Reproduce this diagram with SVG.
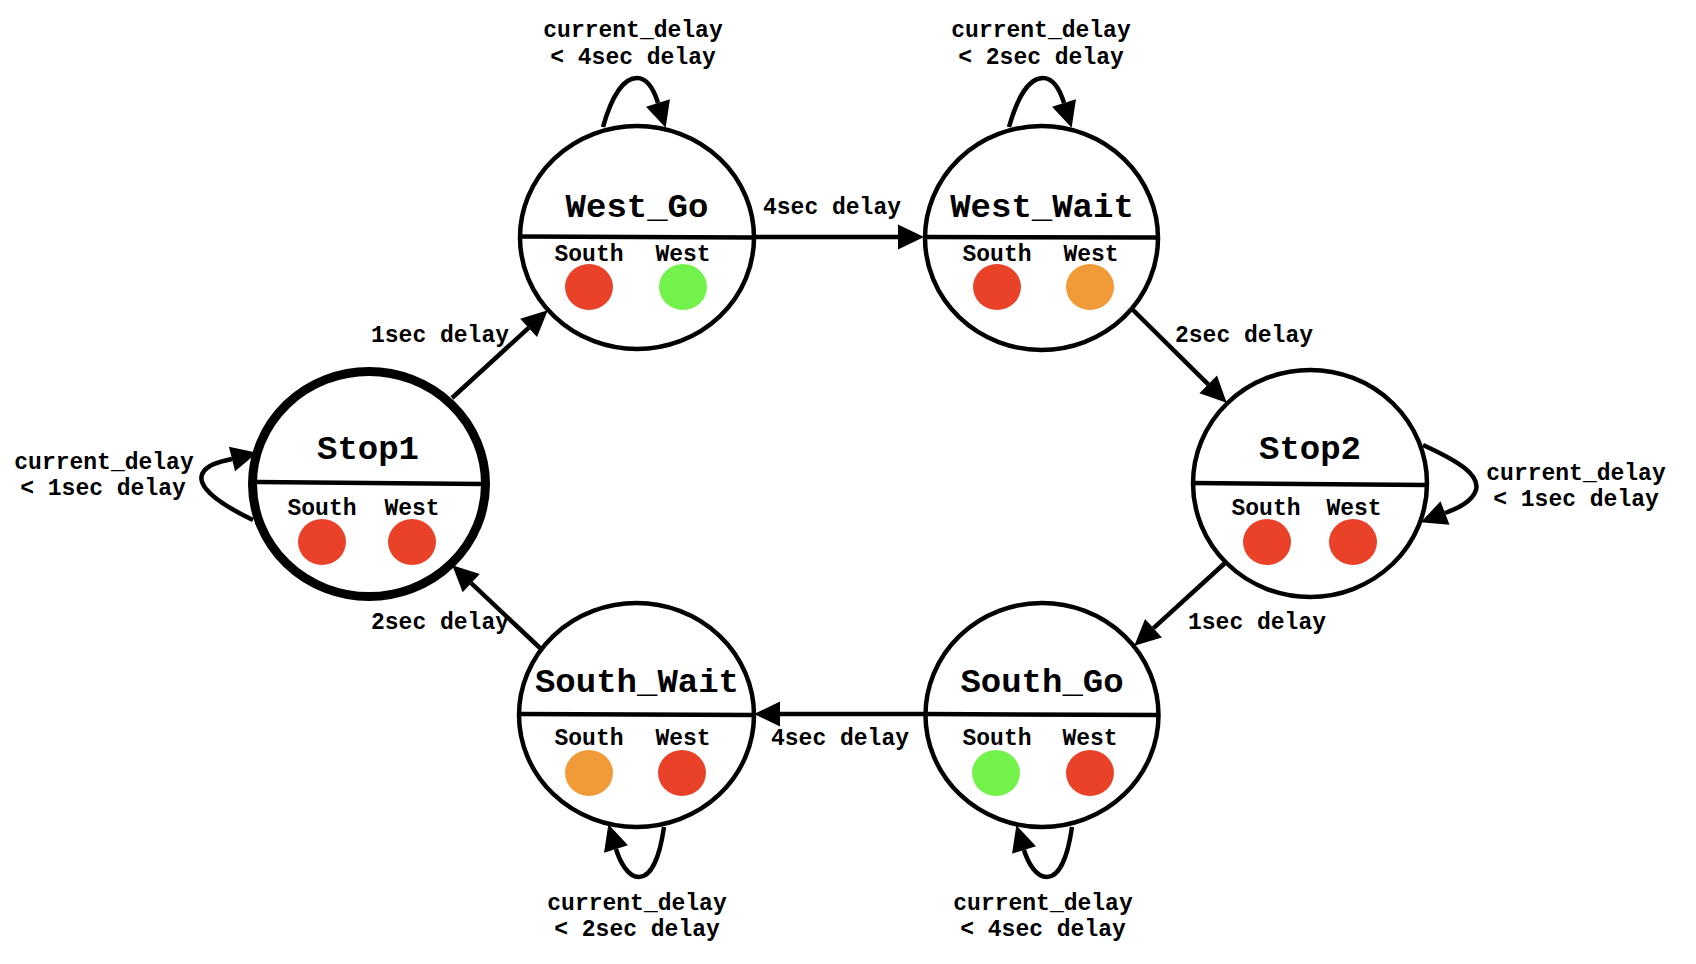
<svg xmlns="http://www.w3.org/2000/svg" width="1696" height="964" viewBox="0 0 1696 964">
  <style>
    text { font-family: "Liberation Mono", "Courier New", monospace; font-weight: bold; fill: #000; text-anchor: middle; }
    .title { font-size: 34px; }
    .lbl { font-size: 23px; }
    .state { fill: #fff; stroke: #000; stroke-width: 4.5; }
    .start { stroke-width: 9; }
    .div { stroke: #000; stroke-width: 4.5; fill: none; }
    .edge { fill: none; stroke: #000; stroke-width: 4.5; marker-end: url(#arrow); }
    .red { fill: #ea4228; }
    .green { fill: #73f24b; }
    .orange { fill: #f19a38; }
  </style>
  <defs>
    <marker id="arrow" markerUnits="userSpaceOnUse" markerWidth="40" markerHeight="40" refX="0" refY="0" orient="auto" overflow="visible">
      <path d="M0,-12.5 L26,0 L0,12.5 z" fill="#000"/>
    </marker>
  </defs>
  <rect width="1696" height="964" fill="#fff"/>

  <!-- transitions and self-loops -->
  <g id="connectors">
    <path class="edge" d="M452,398 L528.6,327.9"/>
    <path class="edge" d="M754,237 L898,237"/>
    <path class="edge" d="M1133,310 L1208.2,384.4"/>
    <path class="edge" d="M1225,563 L1153.5,628.2"/>
    <path class="edge" d="M925,714 L780,714"/>
    <path class="edge" d="M540,648 L471.2,583.2"/>

    <path class="edge" d="M603,127 C612,95 624,78 637,78 C648,78 654,90 658,103"/>
    <path class="edge" d="M1009,127 C1018,95 1030,78 1043,78 C1054,78 1060,90 1064,103"/>
    <path class="edge" d="M664,827 C660,855 652,877 639,877 C628,877 620,862 616,849"/>
    <path class="edge" d="M1072,827 C1068,855 1060,877 1047,877 C1036,877 1028,863 1024,850"/>
    <path class="edge" d="M253,520 C205,497 190,478 210,466 C216,462 224,461 232,459"/>
    <path class="edge" d="M1423,445 C1460,462 1480,475 1476,490 C1472,502 1458,508 1445,513"/>
  </g>

  <!-- transition labels -->
  <g id="edge-labels">
    <text class="lbl" x="440" y="342">1sec delay</text>
    <text class="lbl" x="832" y="214">4sec delay</text>
    <text class="lbl" x="1244" y="342">2sec delay</text>
    <text class="lbl" x="1257" y="629">1sec delay</text>
    <text class="lbl" x="840" y="745">4sec delay</text>
    <text class="lbl" x="440" y="629">2sec delay</text>

    <text class="lbl" x="633" y="37">current_delay</text>
    <text class="lbl" x="633" y="64">&lt; 4sec delay</text>
    <text class="lbl" x="1041" y="37">current_delay</text>
    <text class="lbl" x="1041" y="64">&lt; 2sec delay</text>
    <text class="lbl" x="104" y="469">current_delay</text>
    <text class="lbl" x="103" y="495">&lt; 1sec delay</text>
    <text class="lbl" x="1576" y="480">current_delay</text>
    <text class="lbl" x="1576" y="506">&lt; 1sec delay</text>
    <text class="lbl" x="637" y="910">current_delay</text>
    <text class="lbl" x="637" y="936">&lt; 2sec delay</text>
    <text class="lbl" x="1043" y="910">current_delay</text>
    <text class="lbl" x="1043" y="936">&lt; 4sec delay</text>
  </g>

  <!-- states -->
  <g id="stop1">
    <ellipse class="state start" cx="369" cy="484" rx="116.5" ry="112.5"/>
    <line class="div" x1="256" y1="482" x2="482" y2="484"/>
    <text class="title" x="368" y="459">Stop1</text>
    <text class="lbl" x="322" y="515">South</text>
    <text class="lbl" x="412" y="515">West</text>
    <ellipse class="red" cx="322" cy="542" rx="24" ry="23"/>
    <ellipse class="red" cx="412" cy="542" rx="24" ry="23"/>
  </g>

  <g id="west_go">
    <ellipse class="state" cx="637" cy="237.5" rx="117" ry="111.5"/>
    <line class="div" x1="520" y1="236.5" x2="754" y2="237.5"/>
    <text class="title" x="637" y="217">West_Go</text>
    <text class="lbl" x="589" y="261">South</text>
    <text class="lbl" x="683" y="261">West</text>
    <ellipse class="red" cx="589" cy="287" rx="24" ry="23"/>
    <ellipse class="green" cx="683" cy="287" rx="24" ry="23"/>
  </g>

  <g id="west_wait">
    <ellipse class="state" cx="1041.5" cy="238" rx="116.5" ry="112"/>
    <line class="div" x1="925" y1="237" x2="1158" y2="237.5"/>
    <text class="title" x="1042" y="217">West_Wait</text>
    <text class="lbl" x="997" y="261">South</text>
    <text class="lbl" x="1091" y="261">West</text>
    <ellipse class="red" cx="997" cy="287" rx="24" ry="23"/>
    <ellipse class="orange" cx="1090" cy="287" rx="24" ry="23"/>
  </g>

  <g id="stop2">
    <ellipse class="state" cx="1310" cy="483.5" rx="117" ry="113.5"/>
    <line class="div" x1="1193" y1="483" x2="1427" y2="485"/>
    <text class="title" x="1310" y="459">Stop2</text>
    <text class="lbl" x="1266" y="515">South</text>
    <text class="lbl" x="1354" y="515">West</text>
    <ellipse class="red" cx="1267" cy="542" rx="24" ry="23"/>
    <ellipse class="red" cx="1353" cy="542" rx="24" ry="23"/>
  </g>

  <g id="south_go">
    <ellipse class="state" cx="1042" cy="715" rx="116.5" ry="112"/>
    <line class="div" x1="926" y1="714" x2="1159" y2="715"/>
    <text class="title" x="1042" y="692">South_Go</text>
    <text class="lbl" x="997" y="745">South</text>
    <text class="lbl" x="1090" y="745">West</text>
    <ellipse class="green" cx="996" cy="773" rx="24" ry="23"/>
    <ellipse class="red" cx="1090" cy="773" rx="24" ry="23"/>
  </g>

  <g id="south_wait">
    <ellipse class="state" cx="636.5" cy="715" rx="117.5" ry="112"/>
    <line class="div" x1="519" y1="714" x2="754" y2="715"/>
    <text class="title" x="637" y="692">South_Wait</text>
    <text class="lbl" x="589" y="745">South</text>
    <text class="lbl" x="683" y="745">West</text>
    <ellipse class="orange" cx="589" cy="773" rx="24" ry="23"/>
    <ellipse class="red" cx="682" cy="773" rx="24" ry="23"/>
  </g>
</svg>
